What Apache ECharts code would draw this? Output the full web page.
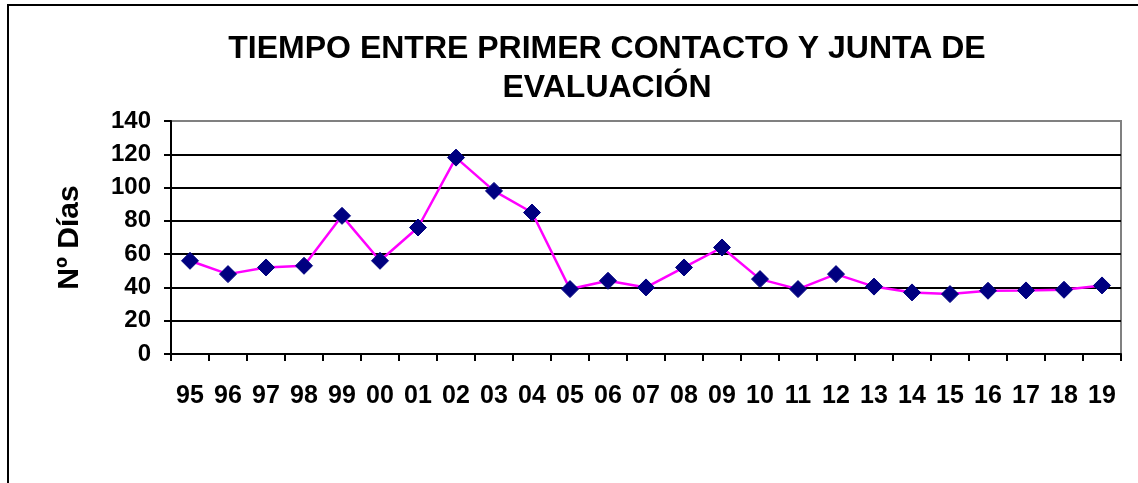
<!DOCTYPE html>
<html>
<head>
<meta charset="utf-8">
<script src="https://cdn.jsdelivr.net/npm/echarts@6/dist/echarts.min.js"></script>
<style>html,body{margin:0;padding:0;background:#fff;}#c{width:1138px;height:483px;}</style>
</head>
<body>
<div id="c"></div>
<script>
var categories = ['95','96','97','98','99','00','01','02','03','04','05','06','07','08','09','10','11','12','13','14','15','16','17','18','19'];
var values = [56, 48, 52, 53, 83, 56, 76, 118, 98, 85, 39, 44, 40, 52, 64, 45, 39, 48, 40.5, 37, 36, 38, 38.2, 38.6, 41.2];
var yTicks = [0, 20, 40, 60, 80, 100, 120, 140];

var chart = echarts.init(document.getElementById('c'), null, {renderer: 'canvas'});
var font = '"Liberation Sans", Arial, sans-serif';
chart.setOption({
  backgroundColor: '#fff',
  animation: false,
  graphic: [{
    type: 'rect', shape: {x: 8, y: 5, width: 1300, height: 700},
    style: {fill: 'none', stroke: '#000', lineWidth: 2}, z: 0, silent: true
  }],
  title: {
    text: 'TIEMPO ENTRE PRIMER CONTACTO Y JUNTA DE\nEVALUACIÓN',
    left: 602, top: 25, textAlign: 'center',
    textStyle: {fontFamily: font, fontWeight: 'bold', fontSize: 32, lineHeight: 39, color: '#000'}
  },
  grid: {left: 171, right: 17, top: 121, bottom: 129, show: true, borderColor: '#808080', borderWidth: 2, backgroundColor: 'transparent'},
  xAxis: {
    type: 'category', data: categories, boundaryGap: true,
    axisLine: {lineStyle: {color: '#000', width: 2}},
    axisTick: {show: true, length: 7, inside: false, alignWithLabel: false, lineStyle: {color: '#000', width: 2}},
    axisLabel: {margin: 30, fontFamily: font, fontWeight: 'bold', fontSize: 25, color: '#000', interval: 0}
  },
  yAxis: {
    type: 'value', min: yTicks[0], max: yTicks[yTicks.length - 1], interval: 20,
    name: 'Nº Días', nameLocation: 'middle', nameGap: 86, nameRotate: 90,
    nameTextStyle: {fontFamily: font, fontWeight: 'bold', fontSize: 30, color: '#000'},
    axisLine: {show: true, lineStyle: {color: '#000', width: 2}},
    axisTick: {show: true, length: 7, lineStyle: {color: '#000', width: 2}},
    axisLabel: {margin: 20, fontFamily: font, fontWeight: 'bold', fontSize: 24, color: '#000'},
    splitLine: {show: true, lineStyle: {color: ['#000','#000','#000','#000','#000','#000','#000','#808080'], width: 2}}
  },
  series: [{
    type: 'line', data: values,
    symbol: 'diamond', symbolSize: 17,
    itemStyle: {color: '#000080', borderColor: '#000080'},
    lineStyle: {color: '#FF00FF', width: 2.5},
    z: 5
  }]
});
</script>
</body>
</html>
